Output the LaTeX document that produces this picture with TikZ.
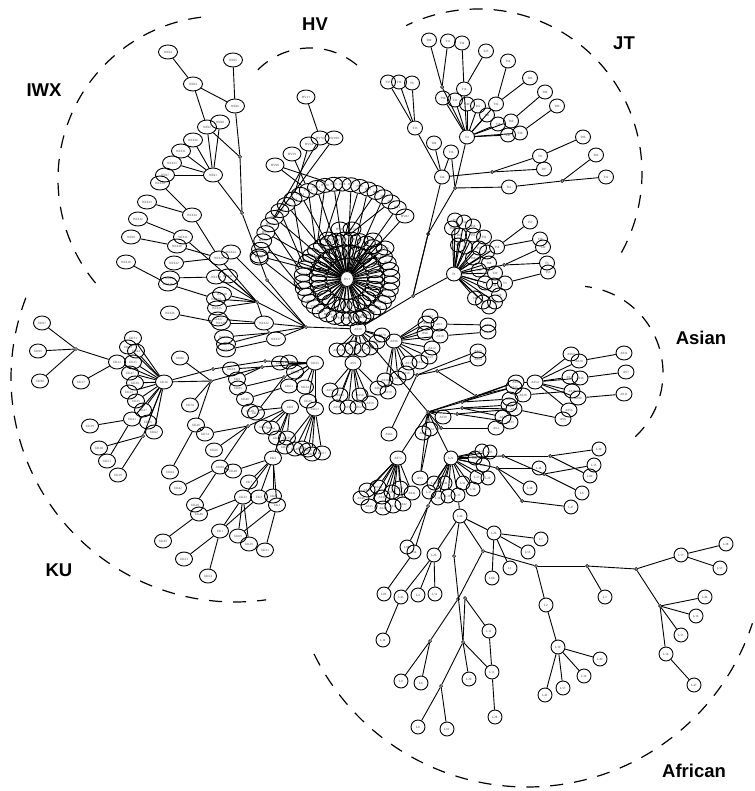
\documentclass[tikz,border=0pt]{standalone}
\usepackage{fontspec}
\setmainfont{Liberation Serif}
\newfontfamily\lab{Liberation Sans}
\usetikzlibrary{shapes.geometric}
\tikzset{
 base/.style={ellipse,draw=black,line width=0.9pt,inner sep=0pt,text=black!80,font=\fontsize{3.2}{3.6}\selectfont},
 wn/.style={base,minimum width=19pt,minimum height=14pt},
 hn/.style={base,minimum width=18pt,minimum height=14pt},
 un/.style={base,minimum width=17pt,minimum height=14pt},
 an/.style={base,minimum width=16pt,minimum height=14pt},
 tn/.style={base,minimum width=15pt,minimum height=14pt},
 ln/.style={base,minimum width=14pt,minimum height=14pt},
 jn/.style={circle,draw=black,fill=white,line width=0.7pt,inner sep=0pt,minimum size=3pt},
 link/.style={draw=black,line width=0.9pt},
 region/.style={draw=black,line width=1.2pt,dash pattern=on 13pt off 11pt},
 title/.style={font=\lab\bfseries\fontsize{18.5}{21}\selectfont,text=black}
}
\newcommand{\fan}[2]{\foreach \b in {#2} \draw[link] (#1) -- (\b);}
\newcommand{\arcreg}[5]{\draw[region] plot[domain=#4:#5,samples=90] ({#1+#3*cos(\x)},{#2-#3*sin(\x)});}
\begin{document}
\begin{tikzpicture}[x=1pt,y=-1pt]
\useasboundingbox (0,0) rectangle (754,791);
% regions
\arcreg{221}{179}{163}{97}{220.5}
\arcreg{310}{121}{73}{50}{139}
\arcreg{478}{173}{164}{-29}{116}
\arcreg{576}{373}{87}{-47}{84}
\arcreg{235}{378}{224}{159}{278}
\arcreg{527}{550}{237}{206}{342}
\node[title] (tiwx) at (44,90) {IWX};
\node[title] (thv) at (315,24) {HV};
\node[title] (tjt) at (624,43) {JT};
\node[title] (tas) at (701,338) {Asian};
\node[title] (tku) at (59,570) {KU};
\node[title] (taf) at (694,771) {African};
% IWX
\foreach \n/\xx/\yy/\tt in {w4/168/52/WIX4,w5/233/60/WIX5,w3/193/84/WIX3,w6/235/106/WIX6,w2/207/127/WIX2,w8/220/122/WIX8,w36/193/140/WIX36,w31/181/151/WIX31,w23/172/163/WIX23,w1/213/175/WIX1,w7/165/175/WIX7,w30/160/183/WIX30,w33/147/202/WIX33,w34/192/215/WIX34,w12/138/219/WIX12,w9/131/237/WIX9,w11/183/237/WIX11,w20/177/246/WIX20,w16/219/258/WIX16,w24/231/252/WIX24,w32/174/263/WIX32,w10/126/262/WIX10,w13/170/278/WIX13,w15/168/284/WIX15,w19/216/277/WIX19,w21/228/276/WIX21,w18/222/294/WIX18,w14/216/299/WIX14,w26/170/313/WIX26,w22/264/323/WIX22,w17/276/339/WIX17,w25/217/308/WIX25,w27/218/319/WIX27,w28/221/323/WIX28,w29/224/337/WIX29,w35/226/344/WIX35,w37/226/350/WIX37}
 \node[wn] (\n) at (\xx,\yy) {\tt};
\foreach \n/\xx/\yy in {c1/240/157,c2/242/213,c3/267/280,c4/306/327,c5/257/302,c6/269/333}
 \node[jn] (\n) at (\xx,\yy) {};
\foreach \a/\b in {w4/w3,w3/w6,w5/w6,w3/w2,w6/c1,c1/c2,w2/c1,w2/w1,w8/w1,w36/w1,w31/w1,w23/w1,w7/w1,w1/c2,c2/c3,c3/c4,w30/w34,w33/w34,w34/w16,w12/w11,w9/w20,w20/w16,w32/w16,w11/c5,w24/c4,w16/c5,w19/c5,w21/c5,w13/w19,w10/w15,w15/w14,w18/c5,w14/c5,c5/c4,c5/w22,w22/c4,w17/c4,w26/w28,w28/w22,w27/w22,w25/c5,w29/c6,w35/c6,c6/w22,c6/c4,w37/w17,w37/w29}
 \draw[link] (\a) -- (\b);
% HV
\node[hn,minimum width=13pt,minimum height=15pt] (hv1) at (347,279) {HV1};
\foreach \i in {1,...,36}{
 \pgfmathsetmacro\ang{\i*10+4}
 \node[hn] (ha\i) at ({347+44*cos(\ang)},{279-40*sin(\ang)}) {HV\i};
 \draw[link] (hv1) -- (ha\i);
}
\foreach \i in {1,...,28}{
 \pgfmathsetmacro\ang{\i*360/28+5}
 \node[hn] (hb\i) at ({347+29*cos(\ang)},{279-27*sin(\ang)}) {};
 \draw[link] (hv1) -- (hb\i);
}
\foreach \i in {1,...,22}{
 \pgfmathsetmacro\ang{45+(\i-1)*130/21}
 \node[hn] (hc\i) at ({340+81*cos(\ang)},{265-81*sin(\ang)}) {HV\i};
 \pgfmathtruncatemacro\tgt{round((\ang+25+10*mod(\i,3)-10)/10)}
 \ifodd\i \draw[link] (hv1) -- (hc\i); \else \draw[link] (ha\tgt) -- (hc\i); \fi
}
\foreach \n/\xx/\yy/\tt in {h11/306/97/HV11,h70/320/138/HV70,h100/334/138/HV100,h54/309/144/HV54,h59/292/154/HV59,h90/275/165/HV90,h82/405/216/HV82,h12/328/239/HV12,h13/340/229/HV13,h14/352/229/HV14,h15/373/240/HV15,h16/385/248/HV16,h17/259/256/HV17,h18/362/317/HV18}
 \node[hn] (\n) at (\xx,\yy) {\tt};
\foreach \a/\b in {h11/h70,h70/hc18,h100/hc18,h54/hc14,h59/hc12,h90/hc12,h90/hc9,h82/hv1,h12/hv1,h13/hv1,h14/hv1,h15/hv1,h16/hv1,h17/hv1,h18/hv1}
 \draw[link] (\a) -- (\b);
% JT
\foreach \n/\xx/\yy/\tt in {t80/429/40/T80,t11/448/41/T11,t34/462/43/T34,t23/486/51/T23,t54/508/61/T54,t83/530/78/T83,t86/545/92/T86,t89/557/106/T89,t37/388/82/T37,t36/399/82/T36,t6/412/83/T6,t33/415/128/T33,t14/464/89/T14,t90/443/98/T90,t31/455/100/T31,t40/467/104/T40,t62/478/106/T62,t32/496/104/T32,t41/487/115/T41,t18/498/124/T18,t60/511/121/T60,t43/508/135/T43,t30/520/133/T30,t4/467/137/T4,t84/434/143/T84,t16/451/152/T16,t26/442/177/T26,t8/540/156/T8,t96/583/137/T96,t87/544/169/T87,t82/596/155/T82,t12/606/177/T12,t61/509/187/T61,t1/454/274/T1,t57/530/222/T57,t58/497/247/T58,t39/540/239/T39,t42/543/247/T42,t5/547/263/T5,t53/548/272/T53,t3/505/283/T3,t68/489/263/T68,t29/495/273/T29,t44/494/285/T44,t70/499/295/T70,t45/495/302/T45,t46/489/307/T46,t47/483/302/T47,t48/475/298/T48,t49/479/270/T49,t50/487/252/T50,t51/479/248/T51,t52/484/237/T52,t55/473/235/T55,t56/473/226/T56,t59/464/222/T59,t63/455/220/T63,t64/452/228/T64,t65/459/235/T65,t66/458/245/T66,t67/465/247/T67,t69/473/258/T69,t71/485/283/T71}
 \node[tn] (\n) at (\xx,\yy) {\tt};
\foreach \n/\xx/\yy in {j1/492/172,j2/562/181,j3/455/188,j4/428/234,j5/442/87,j6/413/296,j7/504/265}
 \node[jn] (\n) at (\xx,\yy) {};
\fan{t4}{t90,t31,t40,t62,t32,t41,t18,t60,t43,t30,t14,j5}
\fan{j5}{t80,t11}
\fan{t14}{t34,t23}
\fan{t32}{t54,t83}
\fan{t60}{t86}
\fan{t30}{t89}
\fan{t33}{t37,t36,t6,t26}
\fan{t26}{t84,t16,j1,j6}
\fan{j1}{t8,t87}
\fan{t8}{t96}
\fan{j3}{t4,t61,t16,j4}
\fan{t61}{j2}
\fan{j2}{t82,t12}
\fan{j4}{j6}
\fan{j6}{t1}
\fan{t1}{t58,t68,t29,t44,t70,t45,t46,t47,t48,t49,t50,t51,t52,t55,t56,t59,t63,t64,t65,t66,t67,t69,t71,j7}
\fan{t58}{t57,t39}
\fan{j7}{t42,t5}
\fan{t3}{t53,t71}
% Asian
\foreach \n/\xx/\yy/\tt in {a39/358/329/AS39,a96/394/341/AS96,a9/353/363/AS9,a1/430/316/AS1,a2/426/323/AS2,a3/439/324/AS3,a8/425/333/AS8,a10/440/336/AS10,a12/432/348/AS12,a13/429/357/AS13,a14/420/362/AS14,a15/409/363/AS15,a16/406/373/AS16,a17/398/378/AS17,a18/385/380/AS18,a19/388/392/AS19,a21/488/325/AS21,a22/488/332/AS22,a23/478/351/AS23,a24/478/359/AS24,a61/389/434/AS61,a54/535/382/AS54,a92/516/382/AS92,a25/514/387/AS25,a26/523/395/AS26,a27/510/399/AS27,a28/509/405/AS28,a29/514/409/AS29,a32/503/417/AS32,a33/510/422/AS33,a4/496/428/AS4,a30/443/417/AS30,a34/430/429/AS34,a35/423/433/AS35,a5/420/478/AS5,a69/571/354/AS69,a20/579/361/AS20,a31/624/353/AS31,a37/570/377/AS37,a36/580/378/AS36,a7/626/372/AS7,a38/572/391/AS38,a90/578/398/AS90,a11/624/394/AS11,a56/569/410/AS56,a6/563/419/AS6,a72/398/458/AS72,a41/412/493/AS41,a42/403/504/AS42,a43/393/506/AS43,a44/383/508/AS44,a45/369/506/AS45,a46/361/498/AS46,a47/367/490/AS47,a48/378/487/AS48,a49/382/497/AS49,a50/392/492/AS50,a51/400/488/AS51,a52/330/390/AS52,a53/340/395/AS53,a55/337/407/AS55,a57/348/407/AS57,a58/360/395/AS58,a59/370/403/AS59,a60/378/388/AS60,a62/358/407/AS62,a63/337/350/AS63,a64/345/350/AS64,a65/353/348/AS65,a66/362/350/AS66,a67/370/348/AS67,a68/377/342/AS68,a70/382/335/AS70}
 \node[an] (\n) at (\xx,\yy) {\tt};
\foreach \n/\xx/\yy in {k1/437/371,k2/417/375,k3/476/396,k4/428/412,k5/462/402,k6/462/408,k7/457/414,k8/441/428}
 \node[jn] (\n) at (\xx,\yy) {};
\fan{c4}{a39}
\fan{a39}{h18,j6,a96,a9,k4,a63,a64,a65,a66,a67,a68,a70}
\fan{a96}{a1,a2,a3,a8,a10,a12,a13,a14,a15,a16,a17,a18,a19}
\fan{a3}{a21}
\fan{a10}{a22}
\fan{a16}{k2}
\fan{k2}{k1,a23,a61}
\fan{k1}{a24,k3}
\fan{a9}{a52,a53,a55,a57,a58,a59,a60,a62}
\fan{k4}{k3,k5,k6,k7,k8,a30,a34,a35,a72,a5}
\fan{k3}{a92,a25}
\fan{k5}{a92,a27,a25}
\fan{k6}{a28,a29,a32}
\fan{k7}{a33,a29}
\fan{k8}{a4}
\fan{a34}{a5}
\fan{a54}{a92,a69,a37,a38,a56,a20,a36}
\fan{a20}{a31}
\fan{a36}{a7}
\fan{a90}{a11,a54}
\fan{a26}{a38}
\fan{a29}{a6}
\fan{a72}{a41,a42,a43,a44,a45,a46,a47,a48,a49,a50,a51}
% African
\foreach \n/\xx/\yy/\tt in {l22/451/458/L22,l21/482/451/L21,l23/490/452/L23,l24/475/458/L24,l25/483/465/L25,l27/477/477/L27,l29/488/478/L29,l30/473/489/L30,l31/463/483/L31,l33/458/495/L33,l35/448/496/L35,l36/438/498/L36,l37/429/492/L37,l40/434/483/L40,l41/445/483/L41,l39/599/449/L39,l15/594/465/L15,l80/590/476/L80,l48/539/468/L48,l38b/530/488/L38,l6b/582/493/L6,l47b/571/507/L47,l46/460/516/L46,l26/494/533/L26,l7/541/539/L7,l55/528/552/L55,l1/510/568/L1,l60/492/578/L60,l17/681/555/L17,l38/726/544/L38,l53/720/568/L53,l3/605/597/L3,l2/546/605/L2,l19/558/647/L19,l49/600/659/L49,l32/584/676/L32,l57/563/688/L57,l42/545/695/L42,l44/705/597/L44,l16/696/616/L16,l13/681/635/L13,l14/666/654/L14,l47/694/685/L47,l26b/434/555/L26,l88/407/547/L88,l54/414/552/L54,l43/401/597/L43,l4/418/595/L4,l51/435/594/L51,l81/384/594/L81,l34/383/640/L34,l12/489/631/L12,l11/492/672/L11,l20/469/679/L20,l28/495/717/L28,l9/401/681/L9,l6/421/683/L6,l8/418/727/L8,l61/447/729/L61}
 \node[ln] (\n) at (\xx,\yy) {\tt};
\foreach \n/\xx/\yy in {m1/503/456,m2/550/456,m3/497/468,m4/544/474,m5/522/501,n1/483/551,n2/536/566,n3/587/566,n4/636/569,n5/660/606,n6/428/506,n7/454/556,n8/458/599,n9/465/598,n10/430/641,n11/463/642,n12/441/686}
 \node[jn] (\n) at (\xx,\yy) {};
\fan{k4}{l22}
\fan{l22}{l21,l23,l24,l25,l27,l29,l30,l31,l33,l35,l36,l37,l40,l41,m1,m3,n6}
\fan{m1}{m2,m4}
\fan{m2}{l39,l80}
\fan{m3}{l48,l38b,m5}
\fan{l48}{m4}
\fan{m4}{l15,l6b}
\fan{m5}{l47b}
\fan{l33}{l46}
\fan{l46}{l26,n1,n7,l26b}
\fan{l26}{l7,l55,l1,l60}
\fan{n1}{n2,n8}
\fan{n2}{n3,l2}
\fan{n3}{n4,l3}
\fan{n4}{l17,n5}
\fan{l17}{l38,l53}
\fan{n5}{l44,l16,l13,l14}
\fan{l14}{l47}
\fan{l2}{l19}
\fan{l19}{l49,l32,l57,l42}
\fan{l26b}{l43,l4,l51}
\fan{l43}{l34}
\fan{n6}{l88,l54}
\fan{l54}{l81}
\fan{n8}{n10}
\fan{n10}{l9,l6}
\fan{n7}{n11}
\fan{n11}{n9,l20,l11,n12}
\fan{n9}{l12}
\fan{l12}{l11}
\fan{l11}{l28}
\fan{n12}{l8,l61}
% KU
\foreach \n/\xx/\yy/\tt in {u97/42/323/UK97,u99/38/351/UK99,u90/40/381/UK90,u17/81/382/UK17,u22/117/362/UK22,u71/133/338/UK71,u43/128/347/UK43,u44/136/351/UK44,u15/133/362/UK15,u47/130/373/UK47,u30/135/383/UK30,u23/129/392/UK23,u25b/136/401/UK25,u37/143/410/UK37,u41/132/419/UK41,u55/148/422/UK55,u62/154/432/UK62,u16/164/382/UK16,u39/90/426/UK39,u18/99/448/UK18,u51/107/461/UK51,u19/118/475/UK19,u86/180/358/UK86,u70/190/405/UK70,u36/196/425/UK36,u74/205/434/UK74,u66/214/450/UK66,u64/170/472/UK64,u42/178/488/UK42,u80/220/467/UK80,u48/233/471/UK48,u2/273/458/UK2,u7/249/482/UK7,u32/243/497/UK32,u5/259/497/UK5,u8/273/496/UK8,u3/277/505/UK3,u28/195/505/UK28,u46/199/514/UK46,u45/163/541/UK45,u1/220/531/UK1,u69/238/536/UK69,u29/249/544/UK29,u31/265/550/UK31,u33/184/559/UK33,u54/208/576/UK54,u34/231/369/UK34,u9/237/379/UK9,u85/238/388/UK85,u40/245/399/UK40,u10/250/411/UK10,u11/256/413/UK11,u21/263/427/UK21,u12/271/428/UK12,u25/315/363/UK25,u13/280/363/UK13,u14/289/362/UK14,u20/295/372/UK20,u61/289/386/UK61,u6/290/407/UK6,u24/305/387/UK24,u26/308/401/UK26,u52/315/409/UK52,u27/277/438/UK27,u35/287/438/UK35,u38/285/447/UK38,u49/295/449/UK49,u50/302/448/UK50,u53/308/450/UK53,u56/312/454/UK56,u57/322/453/UK57}
 \node[un] (\n) at (\xx,\yy) {\tt};
\foreach \n/\xx/\yy in {p1/76/349,p2/143/436,p3/211/381,p4/265/361,p5/213/369,p6/262/367,p7/248/426,p8/284/377}
 \node[jn] (\n) at (\xx,\yy) {};
\fan{p1}{u97,u99,u90,u22}
\fan{u22}{u17,u16}
\fan{u16}{u71,u43,u44,u15,u47,u30,u23,u25b,u37,u55,u62,u41,p2,p3,p5}
\fan{u41}{u39,u51}
\fan{p2}{u18,u19}
\fan{p3}{u86,u70,u36,p6}
\fan{p5}{p4}
\fan{p4}{u25}
\fan{p6}{u25,u9,u34}
\fan{u36}{u64,u74}
\fan{u74}{p7}
\fan{p7}{u66,u80,u6}
\fan{u80}{u48,u42,u28}
\fan{u48}{u2}
\fan{u25}{u13,u14,u20,u61,u24,u26,u52,p8}
\fan{p8}{u85,u11}
\fan{u61}{u40}
\fan{u6}{u10,u21,u12,u27,u35,u2}
\fan{u52}{u38,u49,u50,u53,u56,u57}
\fan{u2}{u7,u32,u5,u8,u3}
\fan{u32}{u46,u1,u69,u29}
\fan{u3}{u31,u69}
\fan{u46}{u45}
\fan{u1}{u33,u54,u5}
\end{tikzpicture}
\end{document}
